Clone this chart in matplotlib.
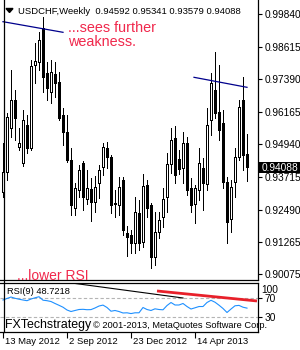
import matplotlib
matplotlib.use("Agg")
import matplotlib.pyplot as plt
from matplotlib.lines import Line2D
from matplotlib.patches import Rectangle, Polygon
import numpy as np

plt.rcParams['font.family'] = ['Liberation Sans', 'DejaVu Sans']

# ---------------- data ----------------
symbol_title = "USDCHF,Weekly  0.94592 0.95341 0.93579 0.94088"
tick_labels = ["13 May 2012", "2 Sep 2012", "23 Dec 2012", "14 Apr 2013"]
tick_index = [0, 16, 32, 48]

opens = [0.93151, 0.93902, 0.95555, 0.96608, 0.94842, 0.94240, 0.95668, 0.94804, 0.97923, 0.98036,
         0.99314, 0.97622, 0.96909, 0.97585, 0.97285, 0.96044, 0.95406, 0.94353, 0.92549, 0.93226,
         0.94240, 0.92888, 0.93264, 0.92775, 0.93489, 0.94090, 0.94804, 0.94466, 0.92737, 0.92662,
         0.93602, 0.91610, 0.91535, 0.91234, 0.92361, 0.91272, 0.93414, 0.92662, 0.90708, 0.91648,
         0.92211, 0.92963, 0.94203, 0.95180, 0.94391, 0.94052, 0.94992, 0.93301, 0.92700, 0.93226,
         0.94052, 0.93451, 0.95856, 0.96984, 0.96157, 0.95743, 0.93527, 0.92136, 0.93527, 0.94466,
         0.96608, 0.94592]
highs = [0.94992, 0.96119, 0.97735, 0.96984, 0.95555, 0.96232, 0.96044, 0.98111, 0.98750, 0.99164,
         0.99727, 0.98036, 0.98111, 0.98036, 0.97660, 0.96307, 0.96044, 0.94804, 0.93489, 0.94165,
         0.94315, 0.93977, 0.93676, 0.93751, 0.94165, 0.94992, 0.95030, 0.94541, 0.93226, 0.93714,
         0.93714, 0.91872, 0.91723, 0.92963, 0.92850, 0.93827, 0.93602, 0.92737, 0.92399, 0.92399,
         0.93301, 0.94616, 0.95555, 0.95630, 0.94729, 0.95406, 0.95218, 0.93676, 0.93414, 0.94804,
         0.94428, 0.96307, 0.97622, 0.98412, 0.97923, 0.96232, 0.93714, 0.93602, 0.94804, 0.96608,
         0.97472, 0.95341]
lows = [0.92963, 0.93602, 0.95218, 0.95105, 0.94729, 0.94127, 0.94616, 0.94729, 0.97247, 0.97735,
        0.96909, 0.96608, 0.96495, 0.96721, 0.95856, 0.94917, 0.94278, 0.92286, 0.92286, 0.92963,
        0.92474, 0.92700, 0.92060, 0.92399, 0.92925, 0.93789, 0.94052, 0.92361, 0.92211, 0.92286,
        0.91535, 0.90745, 0.90858, 0.90858, 0.90971, 0.91084, 0.92211, 0.90294, 0.90407, 0.91422,
        0.91835, 0.92399, 0.93864, 0.93489, 0.93827, 0.93489, 0.93038, 0.92399, 0.91985, 0.92850,
        0.92474, 0.93226, 0.95293, 0.95931, 0.95105, 0.93301, 0.91234, 0.91648, 0.92963, 0.94353,
        0.93977, 0.93579]
closes = [0.93902, 0.95969, 0.96608, 0.95931, 0.94992, 0.95856, 0.94804, 0.97885, 0.98073, 0.98863,
          0.97472, 0.97059, 0.97660, 0.97247, 0.95931, 0.95406, 0.94353, 0.92662, 0.93301, 0.93977,
          0.92963, 0.93301, 0.92775, 0.93339, 0.93977, 0.94842, 0.94466, 0.92662, 0.92700, 0.93339,
          0.91723, 0.91460, 0.91234, 0.92399, 0.91234, 0.93376, 0.92549, 0.90708, 0.91648, 0.92098,
          0.92888, 0.94203, 0.95105, 0.93789, 0.94015, 0.94992, 0.93226, 0.92662, 0.93301, 0.94240,
          0.93489, 0.95668, 0.97247, 0.96119, 0.95481, 0.93527, 0.92023, 0.93339, 0.94466, 0.96345,
          0.94541, 0.94088]
rsi = [65.3, 68.4, 71.4, 68.8, 66.9, 65.3, 63.9, 67.3, 69.8, 72.0,
       64.9, 63.9, 62.2, 58.2, 54.5, 50.6, 44.9, 41.8, 43.9, 45.9,
       46.3, 45.5, 45.7, 49.0, 53.0, 54.9, 50.0, 42.4, 43.9, 41.8,
       38.8, 39.2, 37.6, 39.2, 39.2, 50.0, 45.9, 43.9, 47.3, 45.9,
       45.3, 54.0, 60.2, 55.1, 55.1, 58.2, 52.0, 46.9, 49.4, 52.0,
       52.0, 60.2, 64.7, 60.8, 54.7, 48.0, 39.8, 46.9, 53.5, 54.3,
       50.6, 48.7218]
price_ticks = [0.99840, 0.98615, 0.97390, 0.96165, 0.94940, 0.93715, 0.92490, 0.91265, 0.90075]
last_price = 0.94088
rsi_value = 48.7218
rsi_levels = [70, 30]

trend1_x = [0, 15]
trend1_y = [0.99551, 0.99152]
trend2_x = [47.75, 61]
trend2_y = [0.97461, 0.97085]
rsi_black_x = [16.25, 45]
rsi_black_y = [101, 69.4]
rsi_red_x = [38.5, 63.5]
rsi_red_y = [83.7, 63.3]

# ---------------- layout helpers ----------------
W, H = 300.0, 350.0
def fx(px): return px / W
def fy(py): return 1 - py / H

fig = plt.figure(figsize=(3, 3.5), dpi=100)
fig.patch.set_facecolor('white')

# main panel: pixel x 0..258, y 0..280
ax = fig.add_axes([0, fy(280), 258 / W, 280 / H])
ax.set_xlim(-0.75, 63.75)
ax.set_ylim(0.89844, 1.00366)
ax.set_facecolor('white')
for s in ['left', 'top']:
    ax.spines[s].set_visible(False)
for s in ['right', 'bottom']:
    ax.spines[s].set_linewidth(0.9)

x = np.arange(len(opens))
o = np.array(opens); c = np.array(closes)
up = c >= o
ax.vlines(x, lows, highs, color='black', lw=0.6, antialiased=False, zorder=2)
for xi, oi, ci, u in zip(x, o, c, up):
    ax.add_patch(Rectangle((xi - 0.25, min(oi, ci)), 0.5, abs(ci - oi),
                           facecolor='white' if u else 'black', edgecolor='black',
                           linewidth=0.6, antialiased=False, zorder=3))

ax.plot(trend1_x, trend1_y, color='#00008c', lw=0.9, zorder=4)
ax.plot(trend2_x, trend2_y, color='#00008c', lw=0.9, zorder=4)

ax.set_xticks([])
ax.yaxis.tick_right()
ax.set_yticks(price_ticks)
ax.set_yticklabels([f"{v:.5f}" for v in price_ticks])
ax.tick_params(axis='y', length=3, width=0.8, pad=1.5, labelsize=7.3)

# current price label
fig.add_artist(Rectangle((fx(258), fy(173)), 42 / W, 11 / H, transform=fig.transFigure,
                         facecolor='black', edgecolor='none', zorder=10))
fig.text(fx(262), fy(167.5), f"{last_price:.5f}", color='white', fontsize=7.3,
         ha='left', va='center', zorder=11)

# title
fig.add_artist(Polygon([[fx(6), fy(8.5)], [fx(13), fy(8.5)], [fx(9.5), fy(12.5)]],
                       closed=True, transform=fig.transFigure, color='black'))
fig.text(fx(18), fy(11), symbol_title, fontsize=6.8, ha='left', va='center')

red = '#f0284c'
fig.text(fx(68), fy(28), "...sees further", color=red, fontsize=10.4, ha='left', va='center')
fig.text(fx(68), fy(42), "weakness.", color=red, fontsize=10.4, ha='left', va='center')
fig.text(fx(17), fy(276.5), "...lower RSI", color=red, fontsize=10.0, ha='left', va='center')

# RSI panel: pixel y 283..332
ax2 = fig.add_axes([0, fy(332), 258 / W, 49 / H])
ax2.set_xlim(-0.75, 63.75)
ax2.set_ylim(0, 100)
ax2.spines['left'].set_visible(False)
for s in ['right', 'bottom', 'top']:
    ax2.spines[s].set_linewidth(0.9)
for lv in rsi_levels:
    ax2.axhline(lv, color='#b4b4b4', lw=0.8, ls=(0, (3, 2)), zorder=1)
ax2.plot(x, rsi, color='#1e90ff', lw=0.8, zorder=3)
ax2.plot(rsi_black_x, rsi_black_y, color='black', lw=0.8, zorder=4)
ax2.plot(rsi_red_x, rsi_red_y, color='#e8202a', lw=2.0, zorder=4, solid_capstyle='butt')
ax2.yaxis.tick_right()
ax2.set_yticks(rsi_levels)
ax2.set_yticklabels([str(v) for v in rsi_levels])
ax2.tick_params(axis='y', length=3, width=0.8, pad=1.5, labelsize=7.3)
fig.text(fx(261), fy(290), "100", fontsize=7.3, ha='left', va='center')
ax2.set_xticks(tick_index)
ax2.set_xticklabels([])
ax2.tick_params(axis='x', length=4, width=0.8)
for ti, lab in zip(tick_index, tick_labels):
    fig.text(fx(3 + 4 * ti + 2), fy(341), lab, fontsize=6.8, ha='left', va='center')

ax2.text(0.027, (332 - 292) / 49, f"RSI(9) {rsi_value:.4f}", transform=ax2.transAxes,
         fontsize=6.7, ha='left', va='center')
fig.text(fx(5), fy(325), "FXTechstrategy", fontsize=8.9, ha='left', va='center')
fig.text(fx(93), fy(325), "© 2001-2013, MetaQuotes Software Corp.", fontsize=6.7,
         ha='left', va='center')

# left border line
fig.add_artist(Line2D([fx(3.5), fx(3.5)], [fy(0), fy(332)], color='black', lw=0.9))

fig.savefig('out.png', dpi=100)
